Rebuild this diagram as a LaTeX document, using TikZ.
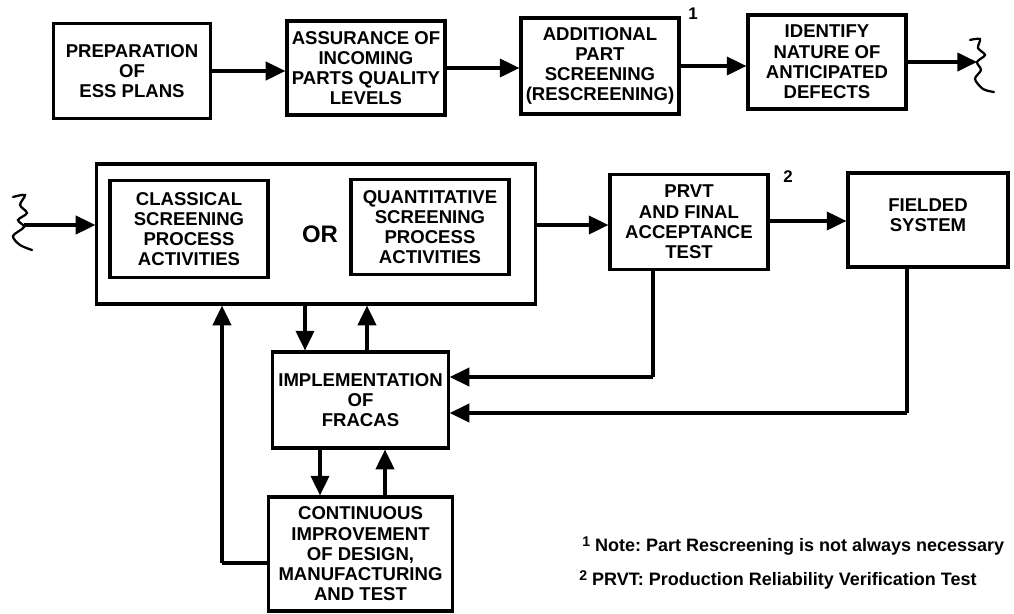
\documentclass[tikz,border=0pt]{standalone}
\usepackage{fontspec}
\setmainfont{Liberation Sans}
\usetikzlibrary{arrows.meta}
\frenchspacing
\tikzset{
	blk/.style={draw, line width=2.2pt, align=center, inner sep=1pt,
		font=\bfseries\fontsize{13.2}{14.4}\selectfont},
	arr/.style={line width=2.2pt, -{Triangle[length=14pt,width=13pt]}},
	fb/.style={line width=2.2pt},
	wig/.style={line width=1.6pt, line cap=round},
	note/.style={font=\bfseries\fontsize{12.8}{14}\selectfont, anchor=west, inner sep=0pt}
}
\begin{document}
\begin{tikzpicture}[x=0.025cm, y=-0.025cm]
			%%%%% START %%%%%
			\useasboundingbox (0,0) rectangle (1014,613);
			
			% top row
			\node[blk, minimum width=3.93cm, minimum height=2.38cm] (prep) at (132,71) {PREPARATION\\OF\\ESS PLANS};
			\node[blk, minimum width=3.95cm, minimum height=2.35cm] (assur) at (366,68) {ASSURANCE OF\\INCOMING\\PARTS QUALITY\\LEVELS};
			\node[blk, minimum width=3.95cm, minimum height=2.4cm] (addl) at (600,66) {ADDITIONAL\\PART\\SCREENING\\(RESCREENING)};
			\node[blk, minimum width=3.95cm, minimum height=2.35cm] (ident) at (827,62) {IDENTIFY\\NATURE OF\\ANTICIPATED\\DEFECTS};
			\node[font=\bfseries\fontsize{12}{13}\selectfont] (n1) at (693,14) {1};
			
			\draw[arr] (prep.east) -- (prep.east -| assur.west);
			\draw[arr] (assur.east) -- (assur.east -| addl.west);
			\draw[arr] (addl.east) -- (addl.east -| ident.west);
			\coordinate (brkR) at (977,62);
			\draw[arr] (ident.east) -- (brkR);
			\draw[wig] plot[smooth] coordinates {(970,40) (980,39) (978,48) (985,55) (977,62) (981,70) (975,79) (983,89) (994,92)};
			
			% screening block
			\node[blk, minimum width=10.95cm, minimum height=3.5cm] (scr) at (316,234) {};
			\node[blk, minimum width=3.95cm, minimum height=2.42cm] (clas) at (189,229) {CLASSICAL\\SCREENING\\PROCESS\\ACTIVITIES};
			\node[blk, minimum width=3.95cm, minimum height=2.38cm] (quan) at (430,227) {QUANTITATIVE\\SCREENING\\PROCESS\\ACTIVITIES};
			\node[font=\bfseries\fontsize{17}{19}\selectfont] (or) at (320,234) {OR};
			
			\coordinate (brkL) at (24,225);
			\draw[wig] plot[smooth] coordinates {(13,197) (25,195) (20,205) (27,213) (18,220) (24,227) (13,236) (20,245) (32,250)};
			\draw[arr] (brkL) -- (brkL -| scr.west);
			
			\node[blk, minimum width=3.95cm, minimum height=2.38cm] (prvt) at (689,222) {PRVT\\AND FINAL\\ACCEPTANCE\\TEST};
			\node[font=\bfseries\fontsize{12}{13}\selectfont] (n2) at (788,177) {2};
			\node[blk, minimum width=4cm, minimum height=2.35cm, text depth=0.25cm] (field) at (928,220) {FIELDED\\SYSTEM};
			
			\draw[arr] (scr.east |- 0,225) -- (prvt.west |- 0,225);
			\draw[arr] (prvt.east |- 0,221) -- (field.west |- 0,221);
			
			% fracas loop
			\node[blk, minimum width=4.38cm, minimum height=2.4cm] (impl) at (360.5,400) {IMPLEMENTATION\\OF\\FRACAS};
			\node[blk, minimum width=4.58cm, minimum height=2.85cm] (cont) at (360.5,554) {CONTINUOUS\\IMPROVEMENT\\OF DESIGN,\\MANUFACTURING\\AND TEST};
			
			\draw[arr] (scr.south -| 305,0) -- (impl.north -| 305,0);
			\draw[arr] (impl.north -| 367,0) -- (scr.south -| 367,0);
			\draw[arr] (impl.south -| 320,0) -- (cont.north -| 320,0);
			\draw[arr] (cont.north -| 385,0) -- (impl.south -| 385,0);
			
			\draw[fb] (prvt.south -| 653,0) -- (653,377);
			\draw[arr] (653,377) -- (impl.east |- 0,377);
			\draw[fb] (field.south -| 907,0) -- (907,413);
			\draw[arr] (907,413) -- (impl.east |- 0,413);
			\draw[fb] (cont.west |- 0,563) -- (222,563);
			\draw[arr] (222,563) -- (scr.south -| 222,0);
			
			% notes
			\node[note] (note1) at (582,546) {\raisebox{0.45ex}{\fontsize{10}{11}\selectfont 1} Note: Part Rescreening is not always necessary};
			\node[note] (note2) at (579,580) {\raisebox{0.45ex}{\fontsize{10}{11}\selectfont 2} PRVT: Production Reliability Verification Test};
			%%%%% END %%%%%
\end{tikzpicture}
\end{document}
